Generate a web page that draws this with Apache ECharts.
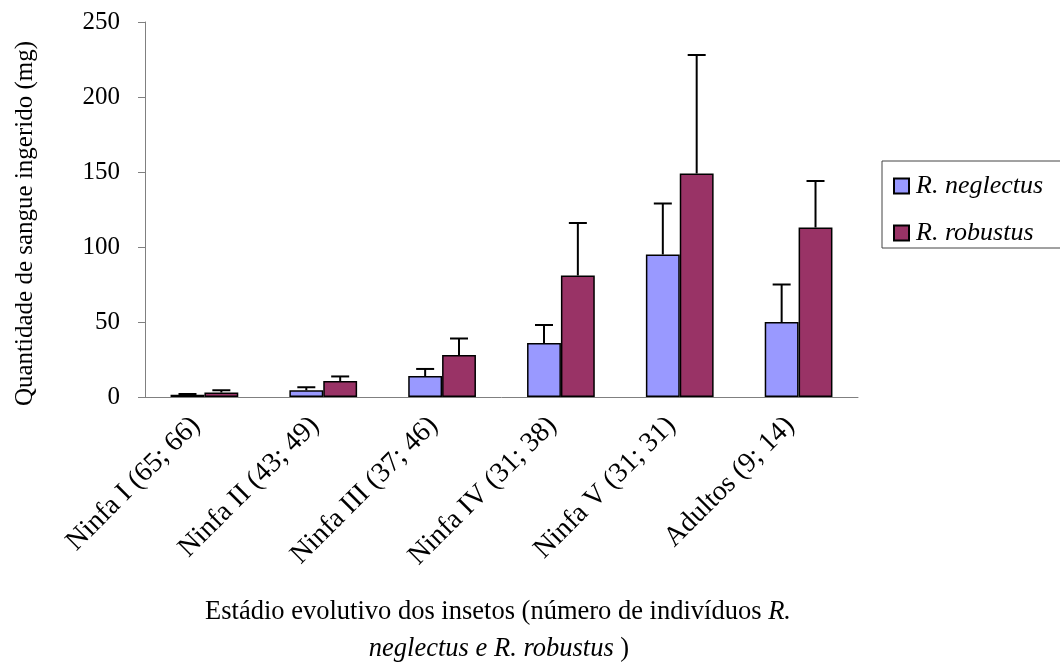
<!DOCTYPE html>
<html>
<head>
<meta charset="utf-8">
<script src="https://cdn.jsdelivr.net/npm/echarts@6/dist/echarts.min.js"></script>
<style>
  html, body { margin: 0; padding: 0; background: #fff; }
  #chart { width: 1060px; height: 665px; }
</style>
</head>
<body>
<div id="chart"></div>
<script>
// dados
var categories = ['Ninfa I (65; 66)', 'Ninfa II (43; 49)', 'Ninfa III (37; 46)',
  'Ninfa IV (31; 38)', 'Ninfa V (31; 31)', 'Adultos (9; 14)'];
var neglectus = [1.5, 4.5, 14, 36, 95, 50];
var neglectusSd = [0.5, 2, 4.7, 12, 34, 25];
var robustus = [3, 10.7, 28, 81, 149, 113];
var robustusSd = [1.5, 3, 11, 35, 79, 31];
var yTicks = [0, 50, 100, 150, 200, 250];

var FONT = '"Liberation Serif", "Times New Roman", serif';
var GAP = 0.43; // barCategoryGap

function errData(means, sd) {
  return means.map(function (m, i) { return [i, m, m + sd[i]]; });
}

// barra de erro só para cima, deslocada para a barra certa do grupo
function errRender(side) {
  return function (params, api) {
    var i = api.value(0);
    var base = api.coord([i, api.value(1)]);
    var top = api.coord([i, api.value(2)]);
    var band = api.size([1, 0])[0];
    var bw = band * (1 - GAP) / 2;
    var cx = base[0] + side * bw / 2;
    var st = { stroke: '#000', lineWidth: 2 };
    return {
      type: 'group',
      children: [
        { type: 'line', shape: { x1: cx, y1: base[1], x2: cx, y2: top[1] }, style: st },
        { type: 'line', shape: { x1: cx - 9, y1: top[1], x2: cx + 9, y2: top[1] }, style: st }
      ]
    };
  };
}

var rich = {
  n: { fontFamily: FONT, fontSize: 26.5, fill: '#000' },
  i: { fontFamily: FONT, fontSize: 26.5, fontStyle: 'italic', fill: '#000' }
};

var chart = echarts.init(document.getElementById('chart'));

var option = {
  animation: false,
  textStyle: { fontFamily: FONT, color: '#000' },
  grid: { left: 145, right: 202, top: 22, bottom: 268 },
  legend: {
    orient: 'vertical',
    left: 882,
    top: 161,
    padding: [12, 80, 2, 11],
    itemGap: 21,
    itemWidth: 15,
    itemHeight: 15,
    icon: 'rect',
    borderColor: '#444',
    borderWidth: 1,
    data: ['R. neglectus', 'R. robustus'],
    textStyle: { fontFamily: FONT, fontSize: 26, fontStyle: 'italic', color: '#000', padding: [0, 0, 0, 2] }
  },
  xAxis: {
    type: 'category',
    data: categories,
    axisLine: { lineStyle: { color: '#808080', width: 1 } },
    axisTick: { length: 7, lineStyle: { color: '#808080' } },
    axisLabel: { interval: 0, rotate: 45, margin: 16, padding: [0, 12, 0, 0], fontSize: 28, fontFamily: FONT, color: '#000' }
  },
  yAxis: {
    type: 'value',
    min: yTicks[0],
    max: yTicks[yTicks.length - 1],
    interval: 50,
    name: 'Quantidade de sangue ingerido (mg)',
    nameLocation: 'middle',
    nameGap: 107,
    nameTextStyle: { fontSize: 25, fontFamily: FONT, color: '#000', padding: [0, 28, 0, 0] },
    splitLine: { show: false },
    axisLine: { show: true, lineStyle: { color: '#808080', width: 1 } },
    axisTick: { show: true, length: 7, lineStyle: { color: '#808080' } },
    axisLabel: { margin: 25, fontSize: 25, fontFamily: FONT, color: '#000' }
  },
  graphic: [
    {
      type: 'text',
      x: 498,
      y: 612,
      style: {
        text: '{n|Estádio evolutivo dos insetos (número de indivíduos }{i|R.}',
        rich: rich,
        align: 'center',
        verticalAlign: 'middle'
      }
    },
    {
      type: 'text',
      x: 499,
      y: 649,
      style: {
        text: '{i|neglectus e R. robustus }{n|)}',
        rich: rich,
        align: 'center',
        verticalAlign: 'middle'
      }
    }
  ],
  series: [
    {
      name: 'R. neglectus',
      type: 'bar',
      data: neglectus,
      barGap: '0%',
      barCategoryGap: (GAP * 100) + '%',
      itemStyle: { color: '#9999FF', borderColor: '#000', borderWidth: 1.5 }
    },
    {
      name: 'R. robustus',
      type: 'bar',
      data: robustus,
      itemStyle: { color: '#993366', borderColor: '#000', borderWidth: 1.5 }
    },
    {
      name: 'sd-neglectus',
      type: 'custom',
      renderItem: errRender(-1),
      data: errData(neglectus, neglectusSd),
      encode: { x: 0, y: [1, 2] },
      z: 5
    },
    {
      name: 'sd-robustus',
      type: 'custom',
      renderItem: errRender(1),
      data: errData(robustus, robustusSd),
      encode: { x: 0, y: [1, 2] },
      z: 5
    }
  ]
};

chart.setOption(option);
</script>
</body>
</html>
